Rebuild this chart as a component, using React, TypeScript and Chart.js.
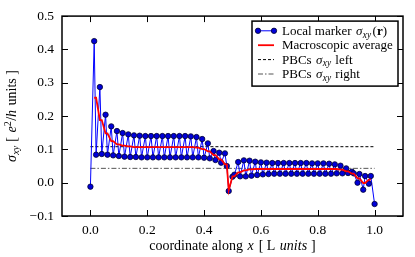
import React, { useEffect, useRef } from 'react';
import { Chart, registerables } from 'chart.js';

Chart.register(...registerables);

const FONT = '"Liberation Serif", "Times New Roman", serif';

// site positions along x (L units)
const siteX = [
  0, 0.0133, 0.02, 0.0333, 0.04, 0.0533, 0.06, 0.0733, 0.08, 0.0933,
  0.10, 0.1133, 0.12, 0.1333, 0.14, 0.1533, 0.16, 0.1733, 0.18, 0.1933,
  0.20, 0.2133, 0.22, 0.2333, 0.24, 0.2533, 0.26, 0.2733, 0.28, 0.2933,
  0.30, 0.3133, 0.32, 0.3333, 0.34, 0.3533, 0.36, 0.3733, 0.38, 0.3933,
  0.40, 0.4133, 0.42, 0.4333, 0.44, 0.4533, 0.46, 0.4733, 0.48,
  0.4867,
  0.50, 0.5067, 0.52, 0.5267, 0.54, 0.5467, 0.56, 0.5667, 0.58, 0.5867,
  0.60, 0.6067, 0.62, 0.6267, 0.64, 0.6467, 0.66, 0.6667, 0.68, 0.6867,
  0.70, 0.7067, 0.72, 0.7267, 0.74, 0.7467, 0.76, 0.7667, 0.78, 0.7867,
  0.80, 0.8067, 0.82, 0.8267, 0.84, 0.8467, 0.86, 0.8667, 0.88, 0.8867,
  0.90, 0.9067, 0.92, 0.9267, 0.94, 0.9467, 0.96, 0.9667, 0.98, 0.9867,
  1.00,
];

// local marker sigma_xy(r)
const sigmaLocal = [
  -0.012, 0.425, 0.084, 0.287, 0.086, 0.204, 0.084, 0.169, 0.082, 0.155,
  0.080, 0.149, 0.078, 0.145, 0.077, 0.142, 0.077, 0.141, 0.076, 0.140,
  0.076, 0.140, 0.076, 0.140, 0.076, 0.140, 0.076, 0.140, 0.076, 0.140,
  0.076, 0.140, 0.076, 0.140, 0.076, 0.139, 0.076, 0.137, 0.076, 0.131,
  0.075, 0.118, 0.073, 0.095, 0.068, 0.090, 0.060, 0.088, 0.050,
  -0.025,
  0.018, 0.024, 0.062, 0.019, 0.067, 0.019, 0.066, 0.021, 0.063, 0.023,
  0.061, 0.025, 0.060, 0.026, 0.059, 0.027, 0.059, 0.027, 0.059, 0.027,
  0.059, 0.027, 0.059, 0.027, 0.059, 0.027, 0.059, 0.027, 0.058, 0.027,
  0.058, 0.027, 0.058, 0.027, 0.057, 0.027, 0.055, 0.028, 0.051, 0.028,
  0.043, 0.029, 0.033, 0.028, 0.000, 0.026, -0.021, 0.020, -0.003, 0.020,
  -0.064,
];

// macroscopic average
const sigmaMacro = [
  null, 0.255, 0.255, 0.188, 0.188, 0.148, 0.148, 0.125, 0.125, 0.115,
  0.115, 0.111, 0.111, 0.109, 0.109, 0.107, 0.107, 0.107, 0.107, 0.107,
  0.107, 0.107, 0.107, 0.107, 0.107, 0.107, 0.107, 0.107, 0.107, 0.107,
  0.107, 0.107, 0.107, 0.107, 0.107, 0.107, 0.107, 0.105, 0.105, 0.101,
  0.101, 0.094, 0.094, 0.083, 0.083, 0.070, 0.070, 0.055, 0.055,
  -0.023,
  0.019, 0.019, 0.031, 0.031, 0.037, 0.037, 0.040, 0.040, 0.041, 0.041,
  0.041, 0.041, 0.041, 0.041, 0.041, 0.041, 0.041, 0.041, 0.041, 0.041,
  0.041, 0.041, 0.041, 0.041, 0.041, 0.041, 0.041, 0.041, 0.041, 0.041,
  0.041, 0.041, 0.041, 0.041, 0.041, 0.041, 0.041, 0.041, 0.039, 0.039,
  0.034, 0.034, 0.027, 0.027, 0.013, 0.013, -0.001, -0.001, 0.009, 0.009,
  null,
];

const pbcX = [0, 1];
const pbcLeft = [0.108, 0.108];
const pbcRight = [0.043, 0.043];

const xTicks = [0, 0.2, 0.4, 0.6, 0.8, 1.0];
const yTicks = [-0.1, 0, 0.1, 0.2, 0.3, 0.4, 0.5];
const xRange = [-0.1, 1.1];
const yRange = [-0.1, 0.5];

type Seg = { t: string; it?: boolean; bf?: boolean; sub?: boolean; sup?: boolean; pad?: number };

const legendItems: { kind: string; segs: Seg[] }[] = [
  { kind: 'marker', segs: [{ t: 'Local marker ', pad: 1 }, { t: 'σ', it: true, pad: 0.5 }, { t: 'xy', it: true, sub: true, pad: 1.5 }, { t: '(' }, { t: 'r', bf: true }, { t: ')' }] },
  { kind: 'red', segs: [{ t: 'Macroscopic average' }] },
  { kind: 'dash', segs: [{ t: 'PBCs ', pad: 1 }, { t: 'σ', it: true, pad: 0.5 }, { t: 'xy', it: true, sub: true, pad: 1 }, { t: ' left' }] },
  { kind: 'dashdot', segs: [{ t: 'PBCs ', pad: 1 }, { t: 'σ', it: true, pad: 0.5 }, { t: 'xy', it: true, sub: true, pad: 1 }, { t: ' right' }] },
];

const xTitle: Seg[] = [
  { t: 'coordinate along ', pad: 1 }, { t: 'x', it: true, pad: 5 }, { t: '[ L ', pad: 1 }, { t: 'units', it: true, pad: 4 }, { t: ']' },
];
const yTitle: Seg[] = [
  { t: 'σ', it: true, pad: 0.5 }, { t: 'xy', it: true, sub: true, pad: 4 }, { t: '[ ', pad: 1 }, { t: 'e', it: true }, { t: '2', sup: true, pad: 0.5 },
  { t: '/' }, { t: 'h', it: true, pad: 1 }, { t: ' units ]' },
];

function segFont(s: Seg, size: number) {
  const sz = s.sub || s.sup ? size * 0.72 : size;
  return `${s.it ? 'italic ' : ''}${s.bf ? 'bold ' : ''}${sz}px ${FONT}`;
}

function richWidth(ctx: CanvasRenderingContext2D, segs: Seg[], size: number) {
  let w = 0;
  for (const s of segs) {
    ctx.font = segFont(s, size);
    w += ctx.measureText(s.t).width + (s.pad || 0);
  }
  return w;
}

function drawRich(ctx: CanvasRenderingContext2D, segs: Seg[], x: number, y: number, size: number, align: 'left' | 'center') {
  const total = richWidth(ctx, segs, size);
  let cx = align === 'center' ? x - total / 2 : x;
  ctx.textAlign = 'left';
  ctx.textBaseline = 'alphabetic';
  for (const s of segs) {
    ctx.font = segFont(s, size);
    const dy = s.sub ? size * 0.22 : s.sup ? -size * 0.38 : 0;
    ctx.fillText(s.t, cx, y + dy);
    cx += ctx.measureText(s.t).width + (s.pad || 0);
  }
}

const decor = {
  id: 'decor',
  afterDraw(chart: any) {
    const { ctx, chartArea: a, scales } = chart;
    ctx.save();
    ctx.strokeStyle = '#000';
    ctx.lineWidth = 1;
    const tl = 6;
    for (const v of xTicks) {
      const px = Math.round(scales.x.getPixelForValue(v)) + 0.5;
      ctx.beginPath();
      ctx.moveTo(px, a.top); ctx.lineTo(px, a.top + tl);
      ctx.moveTo(px, a.bottom); ctx.lineTo(px, a.bottom - tl);
      ctx.stroke();
    }
    for (const v of yTicks) {
      const py = Math.round(scales.y.getPixelForValue(v)) + 0.5;
      ctx.beginPath();
      ctx.moveTo(a.left, py); ctx.lineTo(a.left + tl, py);
      ctx.moveTo(a.right, py); ctx.lineTo(a.right - tl, py);
      ctx.stroke();
    }
    ctx.lineWidth = 1.5;
    ctx.strokeRect(a.left, a.top, a.right - a.left, a.bottom - a.top);

    // legend
    const bx = a.right - 151, by = a.top + 5, bw = 146, bh = 65;
    ctx.fillStyle = '#fff';
    ctx.fillRect(bx, by, bw, bh);
    ctx.strokeRect(bx, by, bw, bh);
    legendItems.forEach((it, i) => {
      const ry = by + 9.7 + i * 14.4;
      const x0 = bx + 6, x1 = bx + 22;
      ctx.save();
      ctx.beginPath();
      if (it.kind === 'marker') {
        ctx.strokeStyle = '#0000ff'; ctx.lineWidth = 1;
      } else if (it.kind === 'red') {
        ctx.strokeStyle = '#ff0000'; ctx.lineWidth = 1.8;
      } else if (it.kind === 'dash') {
        ctx.strokeStyle = '#000'; ctx.lineWidth = 1; ctx.setLineDash([3, 2]);
      } else {
        ctx.strokeStyle = '#555'; ctx.lineWidth = 1; ctx.setLineDash([5, 2, 1.5, 2]);
      }
      ctx.moveTo(x0, ry); ctx.lineTo(x1, ry);
      ctx.stroke();
      ctx.setLineDash([]);
      if (it.kind === 'marker') {
        for (const mx of [x0, x1]) {
          ctx.beginPath();
          ctx.arc(mx, ry, 2.7, 0, Math.PI * 2);
          ctx.fillStyle = '#0000d8';
          ctx.fill();
          ctx.strokeStyle = '#000030'; ctx.lineWidth = 0.8;
          ctx.stroke();
        }
      }
      ctx.restore();
      ctx.fillStyle = '#000';
      drawRich(ctx, it.segs, bx + 30, ry + 4, 13, 'left');
    });

    // axis titles
    ctx.fillStyle = '#000';
    drawRich(ctx, xTitle, (a.left + a.right) / 2, 250, 14, 'center');
    ctx.save();
    ctx.translate(0, (a.top + a.bottom) / 2);
    ctx.rotate(-Math.PI / 2);
    drawRich(ctx, yTitle, 0, 16, 14, 'center');
    ctx.restore();
    ctx.restore();
  },
};

function fmt(v: number) {
  const s = Math.abs(v).toFixed(1);
  return v < -1e-9 ? '\u2212' + s : s;
}

export default function App() {
  const ref = useRef<HTMLCanvasElement | null>(null);
  useEffect(() => {
    const canvas = ref.current!;
    const pts = (ys: (number | null)[]) => siteX.map((x, i) => ({ x, y: ys[i] }));
    const chart = new Chart(canvas, {
      type: 'line',
      data: {
        datasets: [
          {
            label: 'Macroscopic average',
            data: pts(sigmaMacro) as any,
            borderColor: '#ff0000',
            borderWidth: 1.8,
            pointRadius: 0,
            spanGaps: false,
            order: 0,
          },
          {
            label: 'Local marker',
            data: pts(sigmaLocal) as any,
            borderColor: '#0000ff',
            borderWidth: 1,
            pointRadius: 2.7,
            pointBackgroundColor: '#0000d8',
            pointBorderColor: '#000030',
            pointBorderWidth: 0.8,
            order: 1,
          },
          {
            label: 'PBCs left',
            data: pbcX.map((x, i) => ({ x, y: pbcLeft[i] })) as any,
            borderColor: '#000',
            borderWidth: 1,
            borderDash: [3, 2],
            pointRadius: 0,
            order: 2,
          },
          {
            label: 'PBCs right',
            data: pbcX.map((x, i) => ({ x, y: pbcRight[i] })) as any,
            borderColor: '#555',
            borderWidth: 1,
            borderDash: [5, 2, 1.5, 2],
            pointRadius: 0,
            order: 3,
          },
        ],
      },
      options: {
        animation: false,
        responsive: false,
        devicePixelRatio: 1,
        layout: { padding: { top: 7, right: 12, left: 0, bottom: 0 } },
        plugins: { legend: { display: false }, tooltip: { enabled: false } },
        elements: { line: { tension: 0 } },
        scales: {
          x: {
            type: 'linear',
            min: xRange[0],
            max: xRange[1],
            afterBuildTicks: (s: any) => { s.ticks = xTicks.map((v) => ({ value: v })); },
            afterFit: (s: any) => { s.height = 41; },
            ticks: {
              font: { family: FONT, size: 13.5 },
              color: '#000',
              padding: 6,
              maxRotation: 0,
              autoSkip: false,
              callback: (v: any) => fmt(Number(v)),
            },
            grid: { display: false, drawTicks: false },
            border: { display: false },
          },
          y: {
            type: 'linear',
            min: yRange[0],
            max: yRange[1],
            afterBuildTicks: (s: any) => { s.ticks = yTicks.map((v) => ({ value: v })); },
            afterFit: (s: any) => { s.width = 62; },
            ticks: {
              font: { family: FONT, size: 13.5 },
              color: '#000',
              padding: 8,
              autoSkip: false,
              callback: (v: any) => fmt(Number(v)),
            },
            grid: { display: false, drawTicks: false },
            border: { display: false },
          },
        },
      },
      plugins: [decor],
    } as any);
    return () => chart.destroy();
  }, []);
  return (
    <div style={{ position: 'absolute', left: 0, top: 0, width: 415, height: 257, background: '#fff' }}>
      <canvas ref={ref} width={415} height={257} />
    </div>
  );
}
